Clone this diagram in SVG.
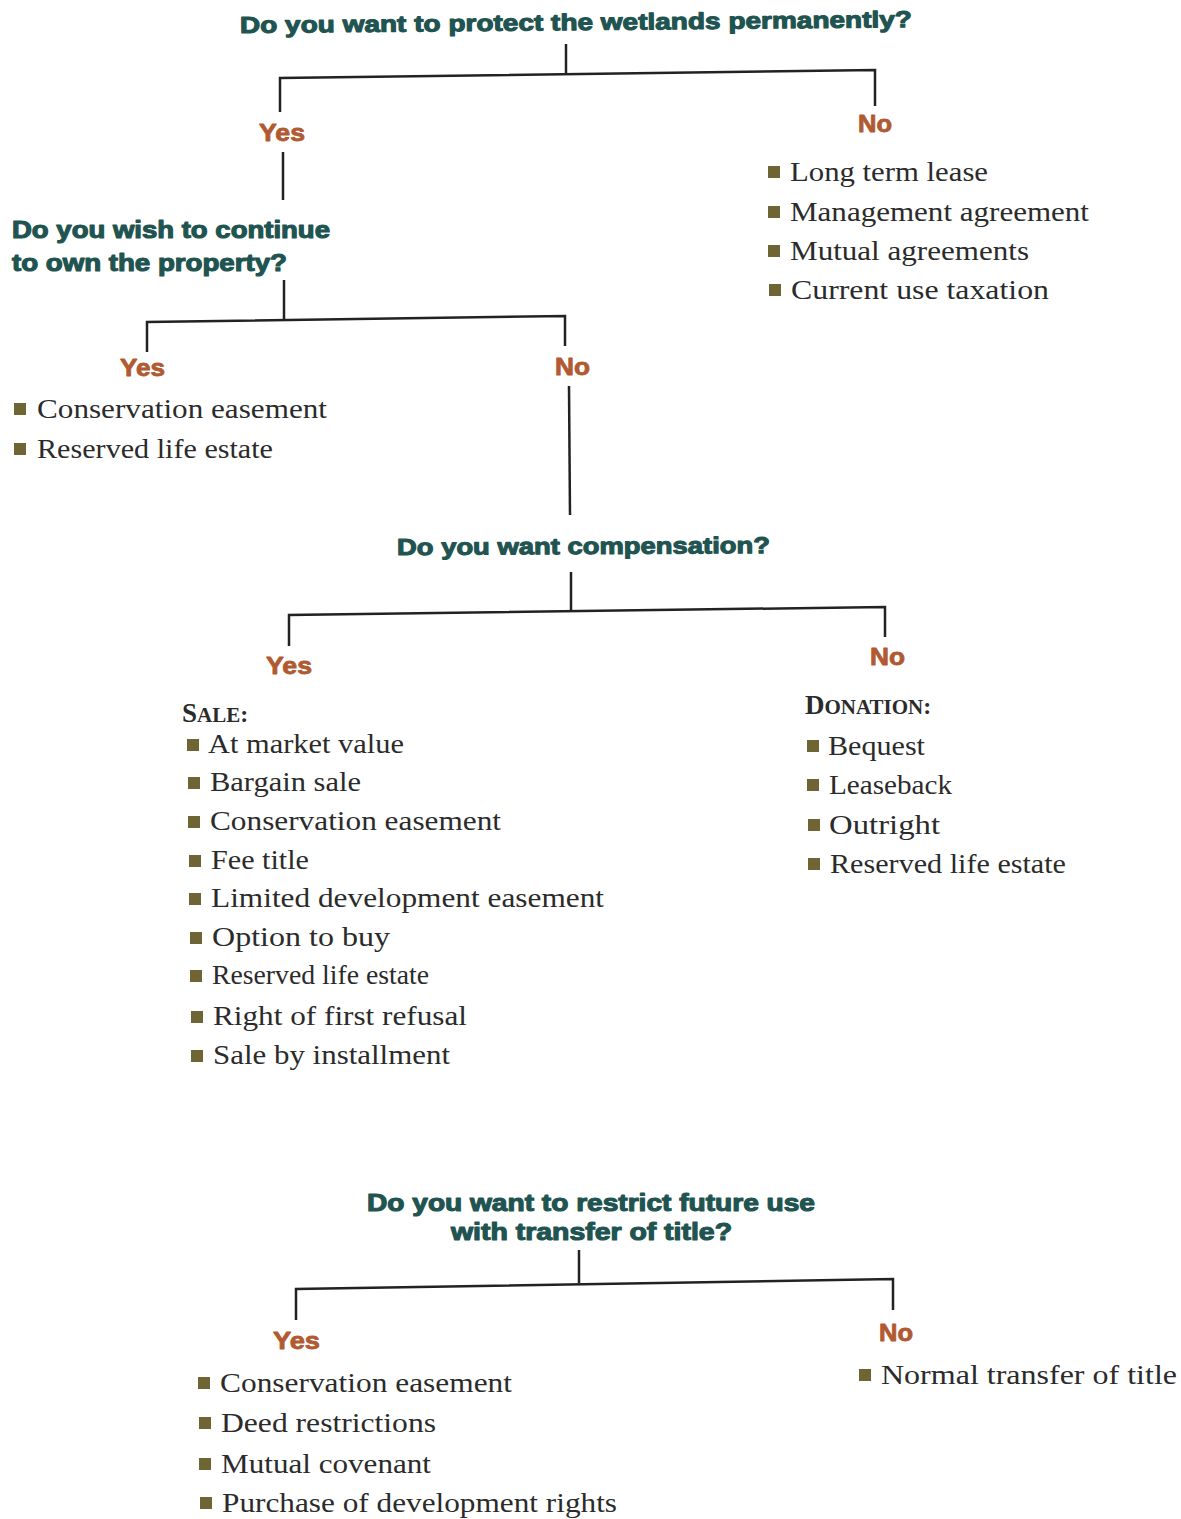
<svg xmlns="http://www.w3.org/2000/svg" width="1181" height="1519" viewBox="0 0 1181 1519">
<style>
.q{font-family:"Liberation Sans",Arial,sans-serif;font-weight:bold;font-size:23px;fill:#1f5451;stroke:#1f5451;stroke-width:1.1;stroke-linejoin:round}
.yn{font-family:"Liberation Sans",Arial,sans-serif;font-weight:bold;font-size:23px;fill:#b15a31;stroke:#b15a31;stroke-width:0.8;stroke-linejoin:round}
.it{font-family:"Liberation Serif","Times New Roman",serif;font-size:27px;fill:#2b2b2b}
.hd{font-family:"Liberation Serif","Times New Roman",serif;font-weight:bold;fill:#2b2b2b}
.b{fill:#6e6434}
.ln{fill:none;stroke:#222;stroke-width:2.5}
</style>
<rect width="1181" height="1519" fill="#fff"/>
<g id="connectors">
<path class="ln" d="M566,44 V73"/>
<path class="ln" d="M280,112 V78 L875,70 V106"/>
<path class="ln" d="M283,152 V200"/>
<path class="ln" d="M284,280 V319"/>
<path class="ln" d="M147,352 V322 L565,316 V346"/>
<path class="ln" d="M569,386 L570,515"/>
<path class="ln" d="M571,572 V610"/>
<path class="ln" d="M289,646 V615 L885,607 V637"/>
<path class="ln" d="M579,1250 V1283"/>
<path class="ln" d="M296,1320 V1289 L893,1279 V1310"/>
</g>
<g id="q1"><text class="q" x="240" y="33" textLength="672" lengthAdjust="spacingAndGlyphs" transform="rotate(-0.5 240 33)">Do you want to protect the wetlands permanently?</text></g>
<g id="q1-yes"><text class="yn" x="259" y="141" textLength="46" lengthAdjust="spacingAndGlyphs">Yes</text></g>
<g id="q1-no">
<text class="yn" x="858" y="132" textLength="34" lengthAdjust="spacingAndGlyphs">No</text>
<rect class="b" x="768" y="166" width="12" height="12"/><text class="it" x="790" y="181" textLength="198" lengthAdjust="spacingAndGlyphs">Long term lease</text>
<rect class="b" x="768" y="206" width="12" height="12"/><text class="it" x="790" y="221" textLength="299" lengthAdjust="spacingAndGlyphs">Management agreement</text>
<rect class="b" x="768" y="245" width="12" height="12"/><text class="it" x="790" y="260" textLength="239" lengthAdjust="spacingAndGlyphs">Mutual agreements</text>
<rect class="b" x="769" y="284" width="12" height="12"/><text class="it" x="791" y="299" textLength="258" lengthAdjust="spacingAndGlyphs">Current use taxation</text>
</g>
<g id="q2">
<text class="q" x="12" y="238" textLength="318" lengthAdjust="spacingAndGlyphs">Do you wish to continue</text>
<text class="q" x="12" y="271" textLength="275" lengthAdjust="spacingAndGlyphs">to own the property?</text>
</g>
<g id="q2-yes">
<text class="yn" x="120" y="376" textLength="45" lengthAdjust="spacingAndGlyphs">Yes</text>
<rect class="b" x="14" y="403" width="12" height="12"/><text class="it" x="37" y="418" textLength="290" lengthAdjust="spacingAndGlyphs">Conservation easement</text>
<rect class="b" x="14" y="443" width="12" height="12"/><text class="it" x="37" y="458" textLength="236" lengthAdjust="spacingAndGlyphs">Reserved life estate</text>
</g>
<g id="q2-no"><text class="yn" x="555" y="375" textLength="35" lengthAdjust="spacingAndGlyphs">No</text></g>
<g id="q3"><text class="q" x="397" y="555" textLength="373" lengthAdjust="spacingAndGlyphs" transform="rotate(-0.3 397 555)">Do you want compensation?</text></g>
<g id="q3-yes">
<text class="yn" x="266" y="674" textLength="46" lengthAdjust="spacingAndGlyphs">Yes</text>
<text class="hd" x="182" y="722"><tspan font-size="27">S</tspan><tspan font-size="21">ALE</tspan><tspan font-size="24">:</tspan></text>
<rect class="b" x="187" y="739" width="12" height="12"/><text class="it" x="208" y="753" textLength="196" lengthAdjust="spacingAndGlyphs">At market value</text>
<rect class="b" x="188" y="777" width="12" height="12"/><text class="it" x="210" y="791" textLength="151" lengthAdjust="spacingAndGlyphs">Bargain sale</text>
<rect class="b" x="188" y="816" width="12" height="12"/><text class="it" x="210" y="830" textLength="291" lengthAdjust="spacingAndGlyphs">Conservation easement</text>
<rect class="b" x="189" y="855" width="12" height="12"/><text class="it" x="211" y="869" textLength="98" lengthAdjust="spacingAndGlyphs">Fee title</text>
<rect class="b" x="189" y="893" width="12" height="12"/><text class="it" x="211" y="907" textLength="393" lengthAdjust="spacingAndGlyphs">Limited development easement</text>
<rect class="b" x="190" y="932" width="12" height="12"/><text class="it" x="212" y="946" textLength="178" lengthAdjust="spacingAndGlyphs">Option to buy</text>
<rect class="b" x="190" y="970" width="12" height="12"/><text class="it" x="212" y="984" textLength="217" lengthAdjust="spacingAndGlyphs">Reserved life estate</text>
<rect class="b" x="191" y="1011" width="12" height="12"/><text class="it" x="213" y="1025" textLength="254" lengthAdjust="spacingAndGlyphs">Right of first refusal</text>
<rect class="b" x="191" y="1050" width="12" height="12"/><text class="it" x="213" y="1064" textLength="237" lengthAdjust="spacingAndGlyphs">Sale by installment</text>
</g>
<g id="q3-no">
<text class="yn" x="870" y="665" textLength="35" lengthAdjust="spacingAndGlyphs">No</text>
<text class="hd" x="805" y="714"><tspan font-size="27">D</tspan><tspan font-size="21">ONATION</tspan><tspan font-size="24">:</tspan></text>
<rect class="b" x="807" y="740" width="12" height="12"/><text class="it" x="828" y="755" textLength="97" lengthAdjust="spacingAndGlyphs">Bequest</text>
<rect class="b" x="807" y="779" width="12" height="12"/><text class="it" x="829" y="794" textLength="123" lengthAdjust="spacingAndGlyphs">Leaseback</text>
<rect class="b" x="808" y="819" width="12" height="12"/><text class="it" x="829" y="834" textLength="111" lengthAdjust="spacingAndGlyphs">Outright</text>
<rect class="b" x="808" y="858" width="12" height="12"/><text class="it" x="830" y="873" textLength="236" lengthAdjust="spacingAndGlyphs">Reserved life estate</text>
</g>
<g id="q4">
<text class="q" x="367" y="1211" textLength="448" lengthAdjust="spacingAndGlyphs">Do you want to restrict future use</text>
<text class="q" x="451" y="1240" textLength="281" lengthAdjust="spacingAndGlyphs">with transfer of title?</text>
</g>
<g id="q4-yes">
<text class="yn" x="273" y="1349" textLength="47" lengthAdjust="spacingAndGlyphs">Yes</text>
<rect class="b" x="198" y="1377" width="12" height="12"/><text class="it" x="220" y="1392" textLength="292" lengthAdjust="spacingAndGlyphs">Conservation easement</text>
<rect class="b" x="199" y="1417" width="12" height="12"/><text class="it" x="221" y="1432" textLength="215" lengthAdjust="spacingAndGlyphs">Deed restrictions</text>
<rect class="b" x="199" y="1458" width="12" height="12"/><text class="it" x="221" y="1473" textLength="210" lengthAdjust="spacingAndGlyphs">Mutual covenant</text>
<rect class="b" x="200" y="1497" width="12" height="12"/><text class="it" x="222" y="1512" textLength="395" lengthAdjust="spacingAndGlyphs">Purchase of development rights</text>
</g>
<g id="q4-no">
<text class="yn" x="879" y="1341" textLength="34" lengthAdjust="spacingAndGlyphs">No</text>
<rect class="b" x="859" y="1369" width="12" height="12"/><text class="it" x="881" y="1384" textLength="296" lengthAdjust="spacingAndGlyphs">Normal transfer of title</text>
</g>
</svg>
